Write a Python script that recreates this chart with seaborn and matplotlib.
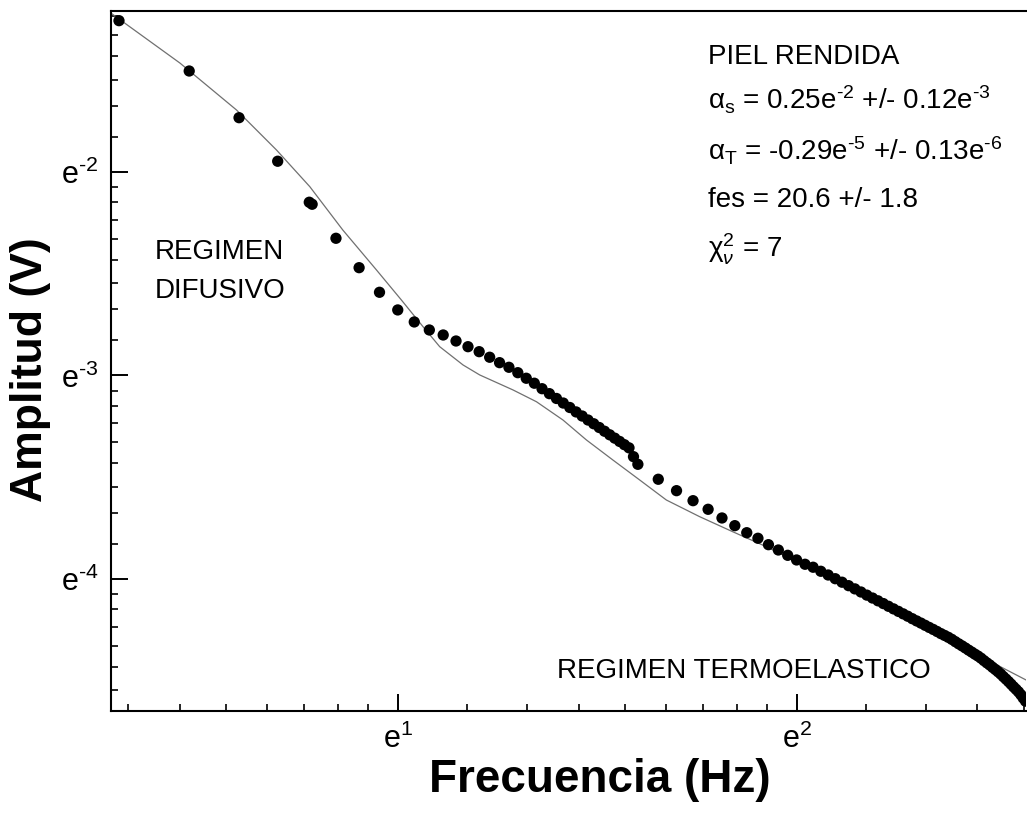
import numpy as np
import pandas as pd
import matplotlib
matplotlib.use("Agg")
import matplotlib.pyplot as plt
import matplotlib.ticker as mticker
import seaborn as sns

# ---------------- data ----------------
freq_hz = [2, 3, 4, 5, 6, 6.1, 7, 8, 9,
           10, 11, 12, 13, 14, 15, 16, 17, 18, 19,
           20, 21, 22, 23, 24, 25, 26, 27, 28, 29,
           30, 31, 32, 33, 34, 35, 36, 37, 38, 39, 40,
           45, 50, 55, 60, 65, 70, 75, 80, 85, 90, 95, 100, 105, 110,
           115, 120, 125, 130, 135, 140, 145, 150, 155, 160,
           165, 170, 175, 180, 185, 190, 195, 200, 205, 210,
           215, 220, 225, 230, 235, 240, 245, 250, 255, 260,
           265, 270, 275, 280, 285, 290, 295, 300, 305, 310,
           315, 320, 325, 330, 335, 340, 345, 350, 355, 360,
           365, 370, 375]

amplitude_v = [0.0554, 0.03134, 0.01848, 0.01129, 0.00710, 0.00694, 0.004722, 0.003386, 0.002563,
               0.002099, 0.001832, 0.001673, 0.001581, 0.001477, 0.001385, 0.001309, 0.001229, 0.001156, 0.001097,
               0.001032, 0.000969, 0.000916, 0.000861, 0.000814, 0.000771, 0.000732, 0.000696, 0.000662, 0.000632,
               0.000604, 0.000579, 0.000555, 0.000532, 0.000511, 0.000492, 0.000474, 0.000457, 0.000441, 0.000399, 0.000366,
               0.000309, 0.0002716, 0.0002425, 0.000220, 0.0001994, 0.0001828, 0.0001688, 0.0001585, 0.0001474,
               0.0001388, 0.0001307, 0.0001240, 0.0001181, 0.0001142,
               10.91e-5, 10.46e-5, 10.03e-5, 9.64e-5, 9.27e-5, 8.94e-5, 8.63e-5, 8.33e-5, 8.06e-5, 7.81e-5,
               7.57e-5, 7.34e-5, 7.13e-5, 6.93e-5, 6.74e-5, 6.56e-5, 6.38e-5, 6.22e-5, 6.07e-5, 5.92e-5,
               5.78e-5, 5.65e-5, 5.52e-5, 5.39e-5, 5.28e-5, 5.17e-5, 5.05e-5, 4.92e-5, 4.80e-5, 4.69e-5,
               4.58e-5, 4.47e-5, 4.37e-5, 4.27e-5, 4.18e-5, 4.08e-5, 3.97e-5, 3.87e-5, 3.78e-5, 3.68e-5,
               3.59e-5, 3.50e-5, 3.41e-5, 3.31e-5, 3.22e-5, 3.13e-5, 3.04e-5, 2.95e-5, 2.87e-5, 2.79e-5,
               2.70e-5, 2.60e-5, 2.51e-5]

fit_freq_hz = [1.91, 2.842, 3.941, 4.966, 6.018, 7.28, 8.843, 10.21, 11.57, 12.74,
               14.58, 16.05, 19.45, 22.27, 25.96, 29.72, 34.64, 40.42, 47.14, 57.13,
               69.1, 83.95, 101.7, 181.2, 376.0]
fit_amplitude_v = [0.0603, 0.03432, 0.02017, 0.01282, 0.00847, 0.005188, 0.0033, 0.00235, 0.001737, 0.001385,
                   0.001126, 0.001006, 0.000849, 0.000743, 0.000604, 0.000482, 0.000384, 0.0003065, 0.0002444, 0.0002024,
                   0.0001708, 0.0001441, 0.0001199, 6.69e-5, 3.19e-5]

x_major_labels = {1: "e$^{\\text{1}}$", 2: "e$^{\\text{2}}$"}
y_major_labels = {-2: "e$^{\\text{-2}}$", -3: "e$^{\\text{-3}}$", -4: "e$^{\\text{-4}}$"}
minor_subs = [1.49, 2.11, 2.84, 3.71, 4.70, 5.81, 7.08, 8.41]

annotation_lines = [
    "PIEL RENDIDA",
    "α$_{\\text{s}}$ = 0.25e$^{\\text{-2}}$ +/- 0.12e$^{\\text{-3}}$",
    "α$_{\\text{T}}$ = -0.29e$^{\\text{-5}}$ +/- 0.13e$^{\\text{-6}}$",
    "fes = 20.6 +/- 1.8",
    "χ$^{\\text{2}}_{\\nu}$ = 7",
]

# ---------------- style ----------------
sns.set_theme(style="white")
plt.rcParams["font.family"] = ["Liberation Sans", "DejaVu Sans"]
plt.rcParams["mathtext.fontset"] = "custom"
plt.rcParams["mathtext.rm"] = "Liberation Sans"
plt.rcParams["mathtext.it"] = "Liberation Sans:italic"
plt.rcParams["mathtext.bf"] = "Liberation Sans:bold"
plt.rcParams["axes.unicode_minus"] = False

df = pd.DataFrame({"f": freq_hz, "A": amplitude_v})
fit_df = pd.DataFrame({"f": fit_freq_hz, "A": fit_amplitude_v})

fig = plt.figure(figsize=(10.27, 8.24), dpi=100)
ax = fig.add_axes([111 / 1027, 1 - 711 / 824, 915 / 1027, 700 / 824])

sns.lineplot(data=fit_df, x="f", y="A", ax=ax, color="#707070", linewidth=0.9,
             sort=False, estimator=None)
sns.scatterplot(data=df, x="f", y="A", ax=ax, color="black", s=66,
                edgecolor="none", linewidth=0, zorder=3)

ax.set_xscale("log")
ax.set_yscale("log")
ax.set_xlim(1.91, 376)
ax.set_ylim(2.245e-5, 0.0618)

ax.xaxis.set_major_locator(mticker.FixedLocator([10.0 ** k for k in x_major_labels]))
ax.xaxis.set_major_formatter(mticker.FixedFormatter(list(x_major_labels.values())))
ax.yaxis.set_major_locator(mticker.FixedLocator([10.0 ** k for k in y_major_labels]))
ax.yaxis.set_major_formatter(mticker.FixedFormatter(list(y_major_labels.values())))
ax.xaxis.set_minor_locator(mticker.LogLocator(base=10, subs=minor_subs, numticks=30))
ax.yaxis.set_minor_locator(mticker.LogLocator(base=10, subs=minor_subs, numticks=30))
ax.xaxis.set_minor_formatter(mticker.NullFormatter())
ax.yaxis.set_minor_formatter(mticker.NullFormatter())

ax.tick_params(which="major", direction="in", length=12, width=1.4, color="black",
               labelsize=22, labelcolor="black", pad=9)
ax.tick_params(which="minor", direction="in", length=5, width=1.2, color="black")
ax.tick_params(axis="x", which="both", bottom=True, top=False)
ax.tick_params(axis="y", which="both", left=True, right=False)

for side in ["left", "bottom", "top"]:
    ax.spines[side].set_visible(True)
    ax.spines[side].set_color("black")
    ax.spines[side].set_linewidth(1.5)
ax.spines["right"].set_visible(False)

ax.set_xlabel("Frecuencia (Hz)", fontsize=33, fontweight="bold", color="black")
ax.set_ylabel("Amplitud (V)", fontsize=32, fontweight="bold", color="black")
ax.xaxis.set_label_coords((600 - 111) / 915, (711 - 780) / 700)
ax.yaxis.set_label_coords((31 - 111) / 915, (711 - 370) / 700)
ax.xaxis.label.set_va("center")
ax.yaxis.label.set_va("center")

# annotations (positions in axes fraction)
ys = [57, 100, 151, 200, 249]
for txt, ypix in zip(annotation_lines, ys):
    ax.text((708 - 111) / 915, (711 - ypix) / 700, txt, transform=ax.transAxes,
            fontsize=20, ha="left", va="center", color="black")

ax.text((155 - 111) / 915, (711 - 252) / 700, "REGIMEN", transform=ax.transAxes,
        fontsize=20, ha="left", va="center", color="black")
ax.text((155 - 111) / 915, (711 - 291) / 700, "DIFUSIVO", transform=ax.transAxes,
        fontsize=20, ha="left", va="center", color="black")
ax.text((557 - 111) / 915, (711 - 671) / 700, "REGIMEN TERMOELASTICO", transform=ax.transAxes,
        fontsize=20, ha="left", va="center", color="black")

fig.savefig("out.png", dpi=100, facecolor="white")
